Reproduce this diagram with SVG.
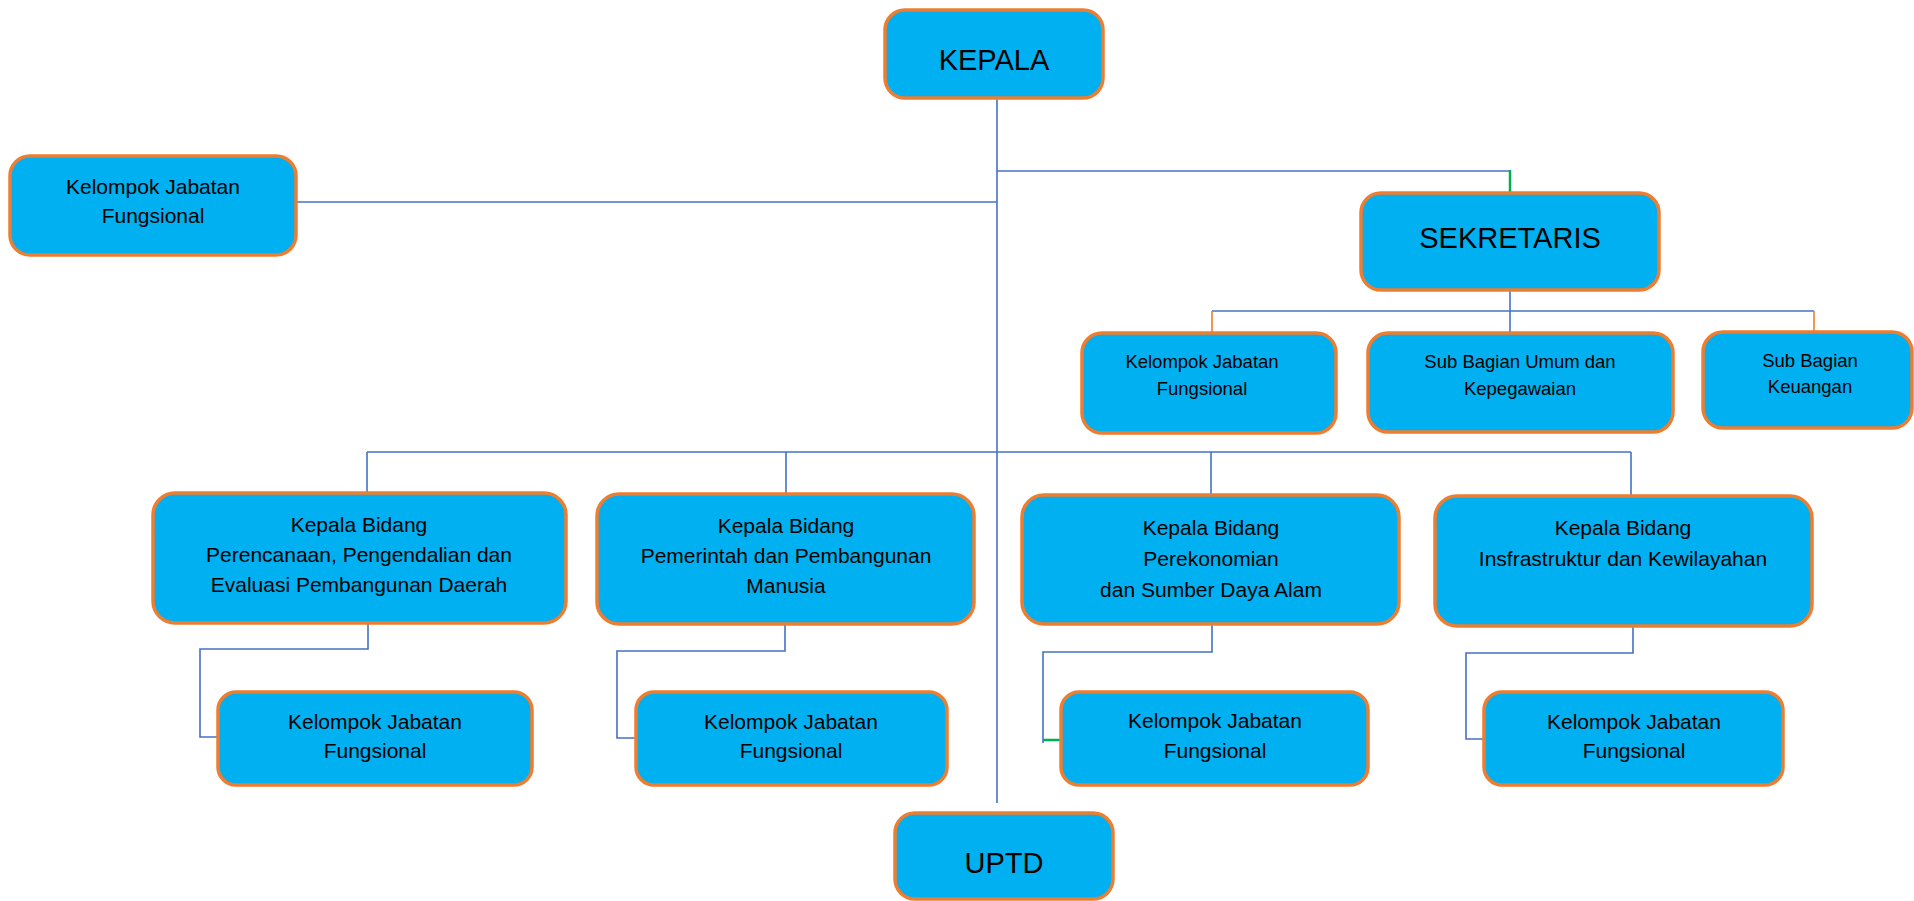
<svg xmlns="http://www.w3.org/2000/svg" width="1914" height="901" viewBox="0 0 1914 901">
<style>
.box{fill:#00B0F0;stroke:#ED7D31;stroke-width:3.5}
.t{font-family:"Liberation Sans",Arial,sans-serif;fill:#000;text-anchor:middle}
.big{font-size:29px}
.m{font-size:21px}
.s{font-size:18.5px}
.b{stroke:#4472C4;stroke-width:1.6;fill:none}
.o{stroke:#ED7D31;stroke-width:1.6;fill:none}
.g{stroke:#00B050;stroke-width:2.5;fill:none}
</style>
<rect width="1914" height="901" fill="#fff"/>
<g id="connectors">
<path class="b" d="M997 98V803"/>
<path class="b" d="M297 202H997"/>
<path class="b" d="M997 171H1510"/>
<path class="g" d="M1510 170V193"/>
<path class="b" d="M1510 290V333"/>
<path class="b" d="M1212 311H1814"/>
<path class="o" d="M1212 311V333M1814 311V332"/>
<path class="b" d="M367 452H1631"/>
<path class="b" d="M367 452V493M786 452V494M1211 452V495M1631 452V496"/>
<path class="b" d="M368 623V649H200V737H218"/>
<path class="b" d="M785 624V651H617V738H636"/>
<path class="b" d="M1212 624V652H1043V743"/>
<path class="g" d="M1043 740H1061"/>
<path class="b" d="M1633 626V653H1466V739H1484"/>
</g>
<g id="kepala"><rect class="box" x="885" y="10" width="218" height="88" rx="20"/><text class="t big" x="994" y="70">KEPALA</text></g>
<g id="kjf-kepala"><rect class="box" x="10" y="156" width="286" height="99" rx="20"/><text class="t m" x="153" y="194">Kelompok Jabatan</text><text class="t m" x="153" y="223">Fungsional</text></g>
<g id="sekretaris"><rect class="box" x="1361" y="193" width="298" height="97" rx="20"/><text class="t big" x="1510" y="248">SEKRETARIS</text></g>
<g id="kjf-sekretaris"><rect class="box" x="1082" y="333" width="254" height="100" rx="20"/><text class="t s" x="1202" y="368">Kelompok Jabatan</text><text class="t s" x="1202" y="395">Fungsional</text></g>
<g id="subbag-umum"><rect class="box" x="1368" y="333" width="305" height="99" rx="20"/><text class="t s" x="1520" y="368">Sub Bagian Umum dan</text><text class="t s" x="1520" y="395">Kepegawaian</text></g>
<g id="subbag-keuangan"><rect class="box" x="1703" y="332" width="209" height="96" rx="20"/><text class="t s" x="1810" y="367">Sub Bagian</text><text class="t s" x="1810" y="393">Keuangan</text></g>
<g id="kabid-1"><rect class="box" x="153" y="493" width="413" height="130" rx="22"/><text class="t m" x="359" y="532">Kepala Bidang</text><text class="t m" x="359" y="562">Perencanaan, Pengendalian dan</text><text class="t m" x="359" y="592">Evaluasi Pembangunan Daerah</text></g>
<g id="kabid-2"><rect class="box" x="597" y="494" width="377" height="130" rx="22"/><text class="t m" x="786" y="533">Kepala Bidang</text><text class="t m" x="786" y="563">Pemerintah dan Pembangunan</text><text class="t m" x="786" y="593">Manusia</text></g>
<g id="kabid-3"><rect class="box" x="1022" y="495" width="377" height="129" rx="22"/><text class="t m" x="1211" y="535">Kepala Bidang</text><text class="t m" x="1211" y="566">Perekonomian</text><text class="t m" x="1211" y="597">dan Sumber Daya Alam</text></g>
<g id="kabid-4"><rect class="box" x="1435" y="496" width="377" height="130" rx="22"/><text class="t m" x="1623" y="535">Kepala Bidang</text><text class="t m" x="1623" y="566">Insfrastruktur dan Kewilayahan</text></g>
<g id="kjf-1"><rect class="box" x="218" y="692" width="314" height="93" rx="18"/><text class="t m" x="375" y="729">Kelompok Jabatan</text><text class="t m" x="375" y="758">Fungsional</text></g>
<g id="kjf-2"><rect class="box" x="636" y="692" width="311" height="93" rx="18"/><text class="t m" x="791" y="729">Kelompok Jabatan</text><text class="t m" x="791" y="758">Fungsional</text></g>
<g id="kjf-3"><rect class="box" x="1061" y="692" width="307" height="93" rx="18"/><text class="t m" x="1215" y="728">Kelompok Jabatan</text><text class="t m" x="1215" y="758">Fungsional</text></g>
<g id="kjf-4"><rect class="box" x="1484" y="692" width="299" height="93" rx="18"/><text class="t m" x="1634" y="729">Kelompok Jabatan</text><text class="t m" x="1634" y="758">Fungsional</text></g>
<g id="uptd"><rect class="box" x="895" y="813" width="218" height="86" rx="20"/><text class="t big" x="1004" y="873">UPTD</text></g>
</svg>
